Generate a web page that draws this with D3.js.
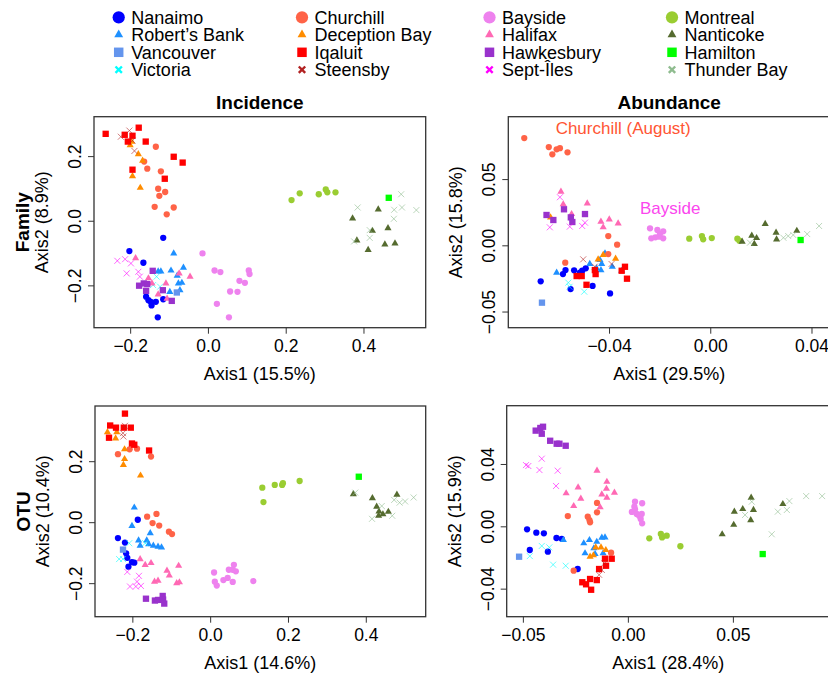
<!DOCTYPE html>
<html>
<head>
<meta charset="utf-8">
<script src="https://cdn.jsdelivr.net/npm/d3@7"></script>
<style>
  body { margin: 0; background: #fff; }
  svg { display: block; font-family: "Liberation Sans", Arial, Helvetica, sans-serif; }
</style>
</head>
<body>
<div id="chart"></div>
<script>
// sites, in legend order (column by column)
const sites = ["Nanaimo", "Robert’s Bank", "Vancouver", "Victoria",
  "Churchill", "Deception Bay", "Iqaluit", "Steensby",
  "Bayside", "Halifax", "Hawkesbury", "Sept-Îles",
  "Montreal", "Nanticoke", "Hamilton", "Thunder Bay"];
const siteColors = ["#0000ff", "#1e90ff", "#6495ed", "#00ffff",
  "#ff6347", "#ff8c00", "#ff0000", "#b22222",
  "#ee82ee", "#ff69b4", "#9932cc", "#ff00ff",
  "#9acd32", "#556b2f", "#00ff00", "#8fbc8f"];
const siteShapes = ["circle", "triangle", "square", "cross",
  "circle", "triangle", "square", "cross",
  "circle", "triangle", "square", "cross",
  "circle", "triangle", "square", "cross"];

// Family / Incidence
const famInc = [
  [[-0.115,-0.053],[-0.202,-0.094],[-0.166,-0.130],[-0.159,-0.235],[-0.147,-0.251],[-0.145,-0.262],[-0.134,-0.251],[-0.115,-0.243],[-0.129,-0.299],[-0.153,-0.246]],
  [[-0.088,-0.101],[-0.063,-0.145],[-0.095,-0.154],[-0.128,-0.157],[-0.121,-0.157],[-0.079,-0.170],[-0.076,-0.194],[-0.067,-0.192],[-0.098,-0.220],[-0.072,-0.215]],
  [[-0.080,-0.222]],
  [[-0.132,-0.173],[-0.141,-0.199],[-0.123,-0.204]],
  [[-0.134,0.229],[-0.164,0.183],[-0.156,0.161],[-0.121,0.153],[-0.128,0.099],[-0.110,0.089],[-0.125,0.077],[-0.137,0.043],[-0.088,0.041],[-0.106,0.020]],
  [[-0.196,0.245],[-0.200,0.234],[-0.179,0.206],[-0.168,0.186],[-0.194,0.138],[-0.174,0.102]],
  [[-0.263,0.269],[-0.214,0.266],[-0.194,0.263],[-0.178,0.288],[-0.206,0.245],[-0.160,0.245],[-0.088,0.198],[-0.065,0.180],[-0.194,0.158],[-0.111,0.130]],
  [[-0.202,0.279],[-0.224,0.260],[-0.194,0.248],[-0.189,0.216]],
  [[-0.014,-0.101],[0.017,-0.154],[0.032,-0.159],[0.105,-0.154],[0.107,-0.165],[0.081,-0.186],[0.095,-0.192],[0.057,-0.219],[0.076,-0.220],[0.023,-0.257],[0.054,-0.299]],
  [[-0.186,-0.116],[-0.046,-0.173],[-0.074,-0.163],[-0.153,-0.178],[-0.144,-0.194],[-0.108,-0.194],[-0.128,-0.228],[-0.105,-0.241]],
  [[-0.142,-0.155],[-0.177,-0.201],[-0.165,-0.194],[-0.156,-0.196],[-0.159,-0.217],[-0.116,-0.215],[-0.093,-0.248]],
  [[-0.233,-0.124],[-0.213,-0.119],[-0.198,-0.132],[-0.209,-0.163],[-0.179,-0.158],[-0.175,-0.173]],
  [[0.215,0.064],[0.236,0.085],[0.285,0.082],[0.303,0.097],[0.307,0.088],[0.328,0.088]],
  [[0.438,0.035],[0.372,0.007],[0.423,-0.031],[0.463,-0.023],[0.383,-0.061],[0.412,-0.090],[0.455,-0.073],[0.481,-0.070]],
  [[0.465,0.071]],
  [[0.497,0.082],[0.385,0.041],[0.479,0.034],[0.499,0.041],[0.536,0.033],[0.478,0.006],[0.416,-0.029],[0.416,-0.053],[0.376,-0.064]]
];

// Family / Abundance
const famAbund = [
  [[-0.0670,-0.0272],[-0.0582,-0.0217],[-0.0572,-0.0187],[-0.0538,-0.0189],[-0.0515,-0.0207],[-0.0506,-0.0192],[-0.0492,-0.0174],[-0.0552,-0.0330],[-0.0465,-0.0307],[-0.0396,-0.0363]],
  [[-0.0607,-0.0207],[-0.0476,-0.0141],[-0.0436,-0.0111],[-0.0429,-0.0141],[-0.0432,-0.0187],[-0.0387,-0.0162],[-0.0350,-0.0192],[-0.0416,-0.0060],[-0.0449,-0.0174]],
  [[-0.0665,-0.0433]],
  [[-0.0561,-0.0282],[-0.0556,-0.0313],[-0.0498,-0.0350]],
  [[-0.0735,0.0810],[-0.0638,0.0742],[-0.0624,0.0687],[-0.0607,0.0725],[-0.0594,0.0733],[-0.0564,0.0702],[-0.0403,0.0070],[-0.0368,0.0005],[-0.0573,-0.0131],[-0.0403,-0.0066]],
  [[-0.0631,0.0211],[-0.0374,-0.0101],[-0.0443,-0.0106],[-0.0423,-0.0073]],
  [[-0.0528,-0.0232],[-0.0508,-0.0232],[-0.0456,-0.0187],[-0.0453,-0.0217],[-0.0489,-0.0298],[-0.0337,-0.0162],[-0.0350,-0.0192],[-0.0329,-0.0252]],
  [[-0.0502,-0.0106],[-0.0390,-0.0141],[-0.0456,-0.0161]],
  [[-0.0238,0.0128],[-0.0209,0.0116],[-0.0186,0.0106],[-0.0233,0.0053],[-0.0217,0.0060],[-0.0202,0.0065],[-0.0186,0.0053],[-0.0199,0.0085]],
  [[-0.0590,0.0405],[-0.0581,0.0310],[-0.0486,0.0317],[-0.0548,0.0236],[-0.0432,0.0178],[-0.0399,0.0196],[-0.0364,0.0166],[-0.0423,0.0136]],
  [[-0.0647,0.0229],[-0.0620,0.0191],[-0.0578,0.0272],[-0.0551,0.0211],[-0.0545,0.0176],[-0.0495,0.0236]],
  [[-0.0594,0.0363],[-0.0634,0.0136],[-0.0555,0.0141],[-0.0506,0.0146],[-0.0495,0.0171]],
  [[-0.0083,0.0050],[-0.0033,0.0070],[-0.0028,0.0045],[0.0006,0.0055],[0.0107,0.0050],[0.0115,0.0035]],
  [[0.0217,0.0161],[0.0126,0.0027],[0.0164,0.0073],[0.0183,0.0055],[0.0174,0.0010],[0.0260,0.0095],[0.0262,0.0045],[0.0342,0.0110]],
  [[0.0357,0.0040]],
  [[0.0157,0.0020],[0.0289,0.0057],[0.0308,0.0070],[0.0328,0.0078],[0.0383,0.0085],[0.0430,0.0146]]
];

// OTU / Incidence
const otuInc = [
  [[-0.186,0.008],[-0.237,-0.052],[-0.219,-0.067],[-0.216,-0.102],[-0.213,-0.117],[-0.201,-0.131],[-0.195,-0.133],[-0.210,-0.146]],
  [[-0.195,0.048],[-0.201,-0.012],[-0.154,-0.036],[-0.184,-0.060],[-0.180,-0.077],[-0.163,-0.060],[-0.158,-0.072],[-0.146,-0.077],[-0.134,-0.080],[-0.125,-0.083]],
  [[-0.224,-0.090]],
  [[-0.208,-0.069],[-0.234,-0.121],[-0.224,-0.121],[-0.167,-0.069]],
  [[-0.237,0.223],[-0.207,0.239],[-0.188,0.241],[-0.152,0.215],[-0.162,0.018],[-0.138,0.027],[-0.148,-0.003],[-0.131,-0.011],[-0.106,-0.031],[-0.098,-0.039]],
  [[-0.264,0.295],[-0.240,0.295],[-0.243,0.275],[-0.220,0.239],[-0.220,0.207],[-0.223,0.188],[-0.179,0.153]],
  [[-0.219,0.356],[-0.257,0.317],[-0.242,0.310],[-0.222,0.310],[-0.204,0.310],[-0.260,0.277],[-0.201,0.258],[-0.195,0.254],[-0.157,0.235]],
  [[-0.219,0.316],[-0.224,0.292],[-0.223,0.281]],
  [[0.010,-0.165],[0.012,-0.195],[0.017,-0.208],[0.034,-0.190],[0.045,-0.183],[0.048,-0.156],[0.061,-0.140],[0.058,-0.156],[0.066,-0.161],[0.058,-0.196],[0.111,-0.193]],
  [[-0.180,-0.121],[-0.167,-0.140],[-0.152,-0.134],[-0.081,-0.143],[-0.111,-0.159],[-0.105,-0.175],[-0.143,-0.195],[-0.134,-0.192],[-0.086,-0.200],[-0.079,-0.197]],
  [[-0.165,-0.251],[-0.142,-0.257],[-0.134,-0.255],[-0.122,-0.242],[-0.121,-0.254],[-0.118,-0.267]],
  [[-0.213,-0.163],[-0.183,-0.176],[-0.188,-0.195],[-0.206,-0.211],[-0.191,-0.211],[-0.178,-0.209]],
  [[0.134,0.113],[0.137,0.066],[0.166,0.122],[0.185,0.122],[0.187,0.128],[0.230,0.135]],
  [[0.368,0.092],[0.417,0.079],[0.428,0.051],[0.434,0.035],[0.433,0.021],[0.444,0.026],[0.458,0.034],[0.480,0.090]],
  [[0.382,0.149]],
  [[0.373,0.097],[0.441,0.053],[0.473,0.073],[0.487,0.064],[0.501,0.068],[0.523,0.081],[0.416,0.011],[0.468,0.021]]
];

// OTU / Abundance
const otuAbund = [
  [[-0.0480,-0.0019],[-0.0436,-0.0041],[-0.0400,-0.0045],[-0.0340,-0.0075],[-0.0315,-0.0080],[-0.0467,-0.0152],[-0.0381,-0.0163],[-0.0239,-0.0274]],
  [[-0.0307,-0.0088],[-0.0210,-0.0109],[-0.0183,-0.0088],[-0.0148,-0.0099],[-0.0124,-0.0073],[-0.0109,-0.0071],[-0.0204,-0.0173],[-0.0162,-0.0141],[-0.0156,-0.0178],[-0.0118,-0.0173]],
  [[-0.0518,-0.0195]],
  [[-0.0410,-0.0126],[-0.0374,-0.0135],[-0.0467,-0.0191],[-0.0356,-0.0246],[-0.0296,-0.0253]],
  [[-0.0147,0.0150],[-0.0147,0.0090],[-0.0286,0.0066],[-0.0191,0.0062],[-0.0183,0.0040],[-0.0180,0.0026],[-0.0080,-0.0169],[-0.0258,-0.0285]],
  [[-0.0180,-0.0195],[-0.0164,-0.0186],[-0.0153,-0.0135],[-0.0128,-0.0135],[-0.0105,-0.0152]],
  [[-0.0109,-0.0208],[-0.0077,-0.0208],[-0.0104,-0.0253],[-0.0137,-0.0274],[-0.0180,-0.0338],[-0.0148,-0.0345],[-0.0217,-0.0359],[-0.0199,-0.0372],[-0.0175,-0.0407]],
  [[-0.0124,-0.0280],[-0.0137,-0.0311],[-0.0112,-0.0238]],
  [[0.0034,0.0158],[0.0068,0.0148],[0.0019,0.0092],[0.0034,0.0109],[0.0042,0.0079],[0.0055,0.0066],[0.0066,0.0079],[0.0061,0.0047],[0.0068,0.0019],[0.0031,0.0126]],
  [[-0.0147,0.0357],[-0.0100,0.0286],[-0.0102,0.0241],[-0.0124,0.0205],[-0.0100,0.0184],[-0.0064,0.0216],[-0.0294,0.0212],[-0.0237,0.0250],[-0.0224,0.0177],[-0.0258,0.0130],[-0.0132,0.0122]],
  [[-0.0439,0.0614],[-0.0417,0.0631],[-0.0404,0.0639],[-0.0410,0.0594],[-0.0370,0.0549],[-0.0339,0.0530],[-0.0326,0.0530],[-0.0296,0.0517]],
  [[-0.0485,0.0393],[-0.0474,0.0387],[-0.0410,0.0434],[-0.0421,0.0361],[-0.0334,0.0357],[-0.0342,0.0259]],
  [[0.0102,-0.0077],[0.0157,-0.0049],[0.0163,-0.0071],[0.0185,-0.0060],[0.0250,-0.0128]],
  [[0.0449,-0.0051],[0.0504,0.0010],[0.0507,0.0094],[0.0547,0.0111],[0.0587,0.0184],[0.0598,0.0105],[0.0585,0.0040],[0.0738,0.0143]],
  [[0.0642,-0.0178]],
  [[0.0558,0.0073],[0.0590,0.0158],[0.0685,-0.0051],[0.0714,0.0094],[0.0757,0.0105],[0.0769,0.0162],[0.0849,0.0194],[0.0925,0.0194]]
];

const ticks1 = [-0.2, 0, 0.2, 0.4];
const ticksY1 = [-0.2, 0, 0.2];
const ticks2 = [-0.04, 0, 0.04];
const ticksY2 = [-0.05, 0, 0.05];
const ticks4 = [-0.05, 0, 0.05];
const ticksY4 = [-0.04, 0, 0.04];

// text labels placed inside the Family/Abundance panel (data coords)
const notes = [
  { text: "Churchill (August)", x: -0.0611, y: 0.0841, color: "#ff5533" },
  { text: "Bayside", x: -0.0278, y: 0.0236, color: "#fb46ee" }
];

const panels = [
  { data: famInc, left: 94, right: 425.7, top: 116.7, bottom: 327.7,
    xDom: [-0.293, 0.560], yDom: [-0.331, 0.322], xTicks: ticks1, yTicks: ticksY1, fmt: ".1f",
    xLab: "Axis1 (15.5%)", yLab: "Axis2 (8.9%)", title: "Incidence", row: "Family" },
  { data: famAbund, left: 508.3, right: 832, top: 116.7, bottom: 327.7,
    xDom: [-0.0798, 0.0481], yDom: [-0.0622, 0.0971], xTicks: ticks2, yTicks: ticksY2, fmt: ".2f",
    xLab: "Axis1 (29.5%)", yLab: "Axis2 (15.8%)", title: "Abundance", notes: notes },
  { data: otuInc, left: 95, right: 425.7, top: 406, bottom: 616.7,
    xDom: [-0.296, 0.554], yDom: [-0.310, 0.381], xTicks: ticks1, yTicks: ticksY1, fmt: ".1f",
    xLab: "Axis1 (14.6%)", yLab: "Axis2 (10.4%)", row: "OTU" },
  { data: otuAbund, left: 506.7, right: 832, top: 405.7, bottom: 616.7,
    xDom: [-0.0577, 0.0972], yDom: [-0.0580, 0.0774], xTicks: ticks4, yTicks: ticksY4, fmt: ".2f",
    xLab: "Axis1 (28.4%)", yLab: "Axis2 (15.9%)" }
];

const width = 828, height = 681;
const svg = d3.select("#chart").append("svg")
    .attr("width", width)
    .attr("height", height);

// draw one marker at (0,0) of a group
function drawMarker(g, shape, color, big) {
  if (shape == "cross") {
    const s = big ? 3.2 : 3;
    g.append("path")
        .attr("d", `M${-s},${-s}L${s},${s}M${-s},${s}L${s},${-s}`)
        .attr("fill", "none")
        .attr("stroke", color)
        .attr("stroke-width", big ? 2.4 : 1)
        .attr("opacity", big ? 1 : 0.6);
    return;
  }
  const type = shape == "circle" ? d3.symbolCircle : shape == "square" ? d3.symbolSquare : d3.symbolTriangle;
  const size = big
    ? (shape == "circle" ? 118 : shape == "square" ? 90 : 34)
    : (shape == "circle" ? 31 : shape == "square" ? 40 : 22);
  g.append("path")
      .attr("d", d3.symbol().type(type).size(size)())
      .attr("fill", color);
}

// legend
const legX = [118.7, 302, 489.5, 672];
const legY = [17.3, 34.7, 52.3, 69.7];
sites.forEach((name, i) => {
  const col = Math.floor(i / 4), row = i % 4;
  const g = svg.append("g").attr("transform", `translate(${legX[col]},${legY[row]})`);
  drawMarker(g, siteShapes[i], siteColors[i], true);
  svg.append("text")
      .attr("x", legX[col] + 12.5)
      .attr("y", legY[row] + 6.4)
      .attr("font-size", 18)
      .attr("fill", "#000")
      .text(name);
});

panels.forEach(p => {
  const x = d3.scaleLinear().domain(p.xDom).range([p.left, p.right]);
  const y = d3.scaleLinear().domain(p.yDom).range([p.bottom, p.top]);
  const fmt = d3.format(p.fmt);

  // x axis
  svg.append("g")
      .attr("transform", `translate(0,${p.bottom})`)
      .call(d3.axisBottom(x).tickValues(p.xTicks).tickSize(6).tickFormat(fmt))
      .call(g => g.select(".domain").remove())
      .call(g => g.selectAll("line").attr("stroke", "#333"))
      .call(g => g.selectAll("text")
          .attr("y", 24).attr("dy", null)
          .attr("font-size", 17.5)
          .attr("font-family", null)
          .attr("fill", "#000"));

  // y axis, labels rotated as in R
  svg.append("g")
      .attr("transform", `translate(${p.left},0)`)
      .call(d3.axisLeft(y).tickValues(p.yTicks).tickSize(6).tickFormat(fmt))
      .call(g => g.select(".domain").remove())
      .call(g => g.selectAll("line").attr("stroke", "#333"))
      .call(g => g.selectAll("text")
          .attr("transform", "rotate(-90)")
          .attr("x", 0).attr("y", -13).attr("dy", null)
          .attr("text-anchor", "middle")
          .attr("font-size", 17.5)
          .attr("font-family", null)
          .attr("fill", "#000"));

  svg.append("rect")
      .attr("x", p.left)
      .attr("y", p.top)
      .attr("width", p.right - p.left)
      .attr("height", p.bottom - p.top)
      .attr("fill", "none")
      .attr("stroke", "#333")
      .attr("stroke-width", 1.3);

  // axis titles
  svg.append("text")
      .attr("x", (p.left + Math.min(p.right, width + 2)) / 2)
      .attr("y", p.bottom + 52)
      .attr("text-anchor", "middle")
      .attr("font-size", 18)
      .text(p.xLab);
  svg.append("text")
      .attr("transform", `translate(${p.left - 46},${(p.top + p.bottom) / 2}) rotate(-90)`)
      .attr("text-anchor", "middle")
      .attr("font-size", 18)
      .text(p.yLab);
  if (p.row) {
    svg.append("text")
        .attr("transform", `translate(${p.left - 65},${(p.top + p.bottom) / 2}) rotate(-90)`)
        .attr("text-anchor", "middle")
        .attr("font-size", 19)
        .attr("font-weight", "bold")
        .text(p.row);
  }
  if (p.title) {
    svg.append("text")
        .attr("x", (p.left + Math.min(p.right, width + 2)) / 2)
        .attr("y", p.top - 7.4)
        .attr("text-anchor", "middle")
        .attr("font-size", 19)
        .attr("font-weight", "bold")
        .text(p.title);
  }

  // points
  p.data.forEach((pts, i) => {
    pts.forEach(d => {
      const g = svg.append("g")
          .attr("transform", `translate(${x(d[0])},${y(d[1])})`);
      drawMarker(g, siteShapes[i], siteColors[i], false);
    });
  });

  (p.notes || []).forEach(n => {
    svg.append("text")
        .attr("x", x(n.x))
        .attr("y", y(n.y))
        .attr("font-size", 17)
        .attr("fill", n.color)
        .text(n.text);
  });
});
</script>
</body>
</html>
